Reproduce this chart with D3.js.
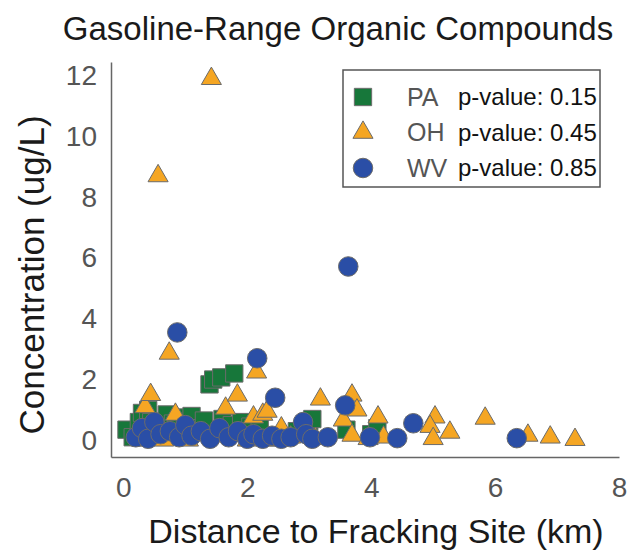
<!DOCTYPE html>
<meta charset="utf-8">
<style>
body { margin: 0; background: #fff; }
text { font-family: 'Liberation Sans', Arial, sans-serif; }
.tick text { fill: #555; font-size: 28px; }
.pt { stroke: #6b6b6b; stroke-width: 1; }
</style>
<html>
  <body>
    <svg width="630" height="550"></svg>
  </body>
</html>
<script src="https://cdn.jsdelivr.net/npm/d3@7"></script>
<script>

// distance (km), concentration (ug/L)
var paData = [
  [0.05, 0.35], [0.15, 0.1], [0.25, 0.6], [0.3, 0.9], [0.4, 1.0], [0.45, 0.6],
  [0.55, 0.3], [0.7, 0.85], [0.8, 0.55], [0.85, 0.5], [0.9, 0.2], [1.0, 0.75],
  [1.1, 0.8], [1.2, 0.4], [1.3, 0.65], [1.39, 1.84], [1.45, 2.0], [1.58, 2.07],
  [1.79, 2.2], [1.6, 0.7], [1.75, 0.5], [1.9, 0.6], [2.05, 0.45], [2.2, 0.5],
  [2.5, 0.1], [2.8, 0.3], [3.0, 0.6], [3.05, 0.7], [3.6, 0.35], [4.0, 0.2],
  [4.1, 0.4]
];
var ohData = [
  [0.35, 1.1], [0.44, 1.5], [0.56, 8.7], [0.74, 2.86], [0.84, 0.85], [1.42, 11.9],
  [1.65, 1.05], [1.84, 1.48], [2.15, 2.24], [2.1, 0.76], [2.25, 0.85], [2.32, 0.95],
  [0.3, 0.0], [0.65, 0.0], [1.05, 0.0], [2.0, 0.0], [2.4, 0.0], [2.7, 0.1],
  [2.9, 0.3], [3.18, 1.35], [3.55, 0.66], [3.69, 1.48], [3.77, 0.99], [3.69, 0.16],
  [3.95, 0.05], [4.11, 0.76], [4.2, 0.1], [5.03, 0.76], [4.95, 0.45], [5.27, 0.26],
  [5.0, 0.05], [5.84, 0.72], [6.53, 0.16], [6.89, 0.1], [7.29, 0.02], [3.1, 0.05],
  [2.55, 0.4]
];
var wvData = [
  [0.2, 0.1], [0.3, 0.4], [0.4, 0.05], [0.5, 0.6], [0.6, 0.2], [0.75, 0.3],
  [0.9, 0.1], [1.0, 0.5], [1.1, 0.15], [1.25, 0.3], [1.4, 0.05], [1.55, 0.4],
  [1.7, 0.1], [1.85, 0.3], [2.0, 0.05], [2.1, 0.2], [2.25, 0.05], [2.4, 0.15],
  [2.55, 0.05], [2.7, 0.1], [2.9, 0.6], [2.95, 0.2], [3.05, 0.05], [3.3, 0.1],
  [3.58, 1.15], [3.63, 5.72], [0.87, 3.55], [2.16, 2.7], [2.45, 1.4], [3.98, 0.1],
  [4.42, 0.07], [4.68, 0.56], [6.35, 0.07]
];

var states = ["PA", "OH", "WV"];
var pValues = ["0.15", "0.45", "0.85"];
var xTicks = [0, 2, 4, 6, 8];
var yTicks = [0, 2, 4, 6, 8, 10, 12];

var series = [
  { name: "PA", data: paData, color: "#17773a", shape: d3.symbolSquare, size: 300 },
  { name: "OH", data: ohData, color: "#f5a623", shape: d3.symbolTriangle, size: 175 },
  { name: "WV", data: wvData, color: "#2a4ea6", shape: d3.symbolCircle, size: 300 }
];

var svg = d3.select("svg");

var x = d3.scaleLinear().domain([-0.2, 8]).range([111, 619]);
var y = d3.scaleLinear().domain([-0.55, 12.45]).range([457, 62]);

// axes, no tick marks, only labels
svg.append("g")
    .attr("transform", "translate(0,457)")
    .call(d3.axisBottom(x).tickValues(xTicks).tickSize(0).tickPadding(20));
svg.append("g")
    .attr("transform", "translate(111,0)")
    .call(d3.axisLeft(y).tickValues(yTicks).tickSize(0).tickPadding(14));

svg.selectAll(".domain").attr("stroke", "#666").attr("stroke-width", 1.5);

// points
series.forEach(function(s) {
  svg.append("g")
    .selectAll("path")
    .data(s.data)
    .enter().append("path")
      .attr("class", "pt")
      .attr("transform", function(d) { return "translate(" + x(d[0]) + "," + y(d[1]) + ")"; })
      .attr("d", d3.symbol().type(s.shape).size(s.size))
      .attr("fill", s.color);
});

// legend
var legend = svg.append("g");
legend.append("rect")
    .attr("x", 343).attr("y", 70)
    .attr("width", 257).attr("height", 117)
    .attr("fill", "#fff")
    .attr("stroke", "#555")
    .attr("stroke-width", 1.5);

var row = legend.selectAll("g.row")
    .data(series)
    .enter().append("g")
      .attr("class", "row")
      .attr("transform", function(d, i) { return "translate(0," + (97 + i * 35.5) + ")"; });

row.append("path")
    .attr("class", "pt")
    .attr("transform", "translate(363,0)")
    .attr("d", function(d) { return d3.symbol().type(d.shape).size(d.size)(); })
    .attr("fill", function(d) { return d.color; });

row.append("text")
    .attr("x", 407).attr("dy", "0.35em")
    .attr("font-size", 25)
    .attr("fill", "#555")
    .text(function(d, i) { return states[i]; });

row.append("text")
    .attr("x", 458).attr("dy", "0.35em")
    .attr("font-size", 24)
    .attr("fill", "#111")
    .text(function(d, i) { return "p-value: " + pValues[i]; });

// titles
svg.append("text")
    .attr("x", 338).attr("y", 40)
    .attr("text-anchor", "middle")
    .attr("font-size", 33)
    .attr("fill", "#1a1a1a")
    .text("Gasoline-Range Organic Compounds");

svg.append("text")
    .attr("x", 376).attr("y", 543)
    .attr("text-anchor", "middle")
    .attr("font-size", 34)
    .attr("fill", "#1a1a1a")
    .text("Distance to Fracking Site (km)");

svg.append("text")
    .attr("transform", "translate(44,275) rotate(-90)")
    .attr("text-anchor", "middle")
    .attr("font-size", 35)
    .attr("fill", "#1a1a1a")
    .text("Concentration (ug/L)");

</script>
